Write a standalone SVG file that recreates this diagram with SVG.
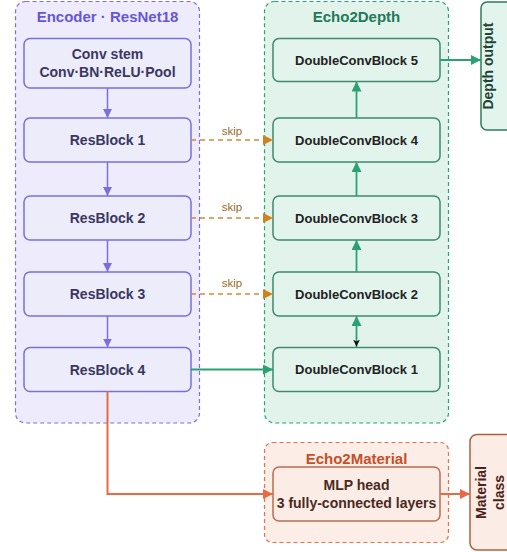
<svg xmlns="http://www.w3.org/2000/svg" width="507" height="552" viewBox="0 0 507 552">
<style>
text{font-family:"Liberation Sans",Arial,sans-serif;font-weight:bold;text-anchor:middle}
.cont{stroke-width:1.2;stroke-dasharray:4 3}
.enc-c{fill:#eeecfc;stroke:#7b6fe0}
.dep-c{fill:#e2f3ec;stroke:#23a675}
.mat-c{fill:#fcede7;stroke:#ea7049}
.enc{fill:#ececfb;stroke:#7a6fdb;stroke-width:1.5}
.dep{fill:#e3f4ed;stroke:#3d8a6c;stroke-width:1.5}
.mat{fill:#fbece5;stroke:#b86d52;stroke-width:1.5}
.t-enc{fill:#3a3760;font-size:14px}
.t-dep{fill:#222;font-size:13px}
.t-mat{fill:#4a2a1e;font-size:14px}
.ti-enc{fill:#6657d2;font-size:15px}
.ti-dep{fill:#1e7a58;font-size:15px}
.ti-mat{fill:#c4502a;font-size:15px}
.skiplbl{fill:#9c6a24;font-size:11.5px;font-weight:normal}
.a-enc{stroke:#7b6fe0;stroke-width:1.5;fill:none}
.a-dep{stroke:#2aa173;stroke-width:1.8;fill:none}
.a-skip{stroke:#d48b35;stroke-width:1.6;stroke-dasharray:5 4;fill:none}
.a-mat{stroke:#e86a44;stroke-width:2;fill:none}
</style>
<defs>
<marker id="mEnc" viewBox="0 0 10 10" refX="10" refY="5" markerUnits="userSpaceOnUse" markerWidth="9" markerHeight="9" orient="auto"><path d="M0,0L10,5L0,10z" fill="#7b6fe0"/></marker>
<marker id="mDep" viewBox="0 0 10 10" refX="10" refY="5" markerUnits="userSpaceOnUse" markerWidth="10" markerHeight="10" orient="auto"><path d="M0,0L10,5L0,10z" fill="#2aa173"/></marker>
<marker id="mSkip" viewBox="0 0 10 10" refX="10" refY="5" markerUnits="userSpaceOnUse" markerWidth="10" markerHeight="10" orient="auto"><path d="M0,0L10,5L0,10z" fill="#d0821f"/></marker>
<marker id="mMat" viewBox="0 0 10 10" refX="10" refY="5" markerUnits="userSpaceOnUse" markerWidth="10" markerHeight="10" orient="auto"><path d="M0,0L10,5L0,10z" fill="#e86a44"/></marker>
<marker id="mBlk" viewBox="0 0 10 10" refX="10" refY="5" markerUnits="userSpaceOnUse" markerWidth="7" markerHeight="7" orient="auto"><path d="M0,0L10,5L0,10L3,5z" fill="#111"/></marker>
</defs>

<g id="encoder">
<rect class="cont enc-c" x="15.5" y="1.5" width="184" height="421.5" rx="10"/>
<text class="ti-enc" x="107.5" y="22">Encoder · ResNet18</text>
</g>
<g id="echo2depth">
<rect class="cont dep-c" x="264.5" y="1.5" width="184" height="421.5" rx="10"/>
<text class="ti-dep" x="356.5" y="22">Echo2Depth</text>
</g>
<g id="echo2material">
<rect class="cont mat-c" x="264.5" y="442.5" width="184" height="100" rx="8"/>
<text class="ti-mat" x="356.5" y="464">Echo2Material</text>
</g>

<g id="conv-stem"><rect class="enc" x="24" y="38.5" width="167" height="49.5" rx="6"/><text class="t-enc" x="107.5" y="59">Conv stem</text><text class="t-enc" x="107.5" y="76.5">Conv·BN·ReLU·Pool</text></g>
<g id="resblock1"><rect class="enc" x="24" y="118" width="167" height="44" rx="6"/><text class="t-enc" x="107.5" y="145">ResBlock 1</text></g>
<g id="resblock2"><rect class="enc" x="24" y="196" width="167" height="44" rx="6"/><text class="t-enc" x="107.5" y="223">ResBlock 2</text></g>
<g id="resblock3"><rect class="enc" x="24" y="272" width="167" height="44" rx="6"/><text class="t-enc" x="107.5" y="299">ResBlock 3</text></g>
<g id="resblock4"><rect class="enc" x="24" y="347.5" width="167" height="44" rx="6"/><text class="t-enc" x="107.5" y="374.5">ResBlock 4</text></g>

<g id="dcb5"><rect class="dep" x="273" y="38.5" width="167" height="43" rx="6"/><text class="t-dep" x="356.5" y="64.5">DoubleConvBlock 5</text></g>
<g id="dcb4"><rect class="dep" x="273" y="118" width="167" height="44" rx="6"/><text class="t-dep" x="356.5" y="144.5">DoubleConvBlock 4</text></g>
<g id="dcb3"><rect class="dep" x="273" y="196" width="167" height="44" rx="6"/><text class="t-dep" x="356.5" y="222.5">DoubleConvBlock 3</text></g>
<g id="dcb2"><rect class="dep" x="273" y="272" width="167" height="44" rx="6"/><text class="t-dep" x="356.5" y="298.5">DoubleConvBlock 2</text></g>
<g id="dcb1"><rect class="dep" x="273" y="347.5" width="167" height="44" rx="6"/><text class="t-dep" x="356.5" y="374">DoubleConvBlock 1</text></g>

<g id="mlp-head"><rect class="mat" x="273" y="467" width="167" height="54" rx="6"/><text class="t-mat" x="356.5" y="490">MLP head</text><text class="t-mat" x="356.5" y="507.5">3 fully-connected layers</text></g>

<g id="depth-output"><rect x="481" y="2" width="34" height="128" rx="6" fill="#e3f4ed" stroke="#2f7a5c" stroke-width="1.5"/><text transform="translate(493,66) rotate(-90)" x="0" y="0" style="font-size:14px;fill:#1d4436">Depth output</text></g>
<g id="material-class"><rect x="470" y="434.5" width="44" height="115.5" rx="7" fill="#fbece5" stroke="#b0603f" stroke-width="1.5"/><text transform="translate(486,492.5) rotate(-90)" style="font-size:14px;fill:#4a2218">Material</text><text transform="translate(504,492.5) rotate(-90)" style="font-size:14px;fill:#4a2218">class</text></g>

<g id="connectors">
<line class="a-enc" x1="107.5" y1="88" x2="107.5" y2="118" marker-end="url(#mEnc)"/>
<line class="a-enc" x1="107.5" y1="162" x2="107.5" y2="196" marker-end="url(#mEnc)"/>
<line class="a-enc" x1="107.5" y1="240" x2="107.5" y2="272" marker-end="url(#mEnc)"/>
<line class="a-enc" x1="107.5" y1="316" x2="107.5" y2="347.5" marker-end="url(#mEnc)"/>

<line class="a-skip" x1="191" y1="140" x2="273" y2="140" marker-end="url(#mSkip)"/>
<line class="a-skip" x1="191" y1="218" x2="273" y2="218" marker-end="url(#mSkip)"/>
<line class="a-skip" x1="191" y1="294" x2="273" y2="294" marker-end="url(#mSkip)"/>
<text class="skiplbl" x="232" y="135">skip</text>
<text class="skiplbl" x="232" y="211">skip</text>
<text class="skiplbl" x="232" y="287">skip</text>

<line class="a-dep" x1="191" y1="369.5" x2="273" y2="369.5" marker-end="url(#mDep)"/>
<line class="a-dep" x1="356.5" y1="347.5" x2="356.5" y2="316" marker-end="url(#mDep)"/>
<line x1="356.5" y1="336" x2="356.5" y2="346.5" stroke="none" marker-end="url(#mBlk)"/>
<line class="a-dep" x1="356.5" y1="272" x2="356.5" y2="240" marker-end="url(#mDep)"/>
<line class="a-dep" x1="356.5" y1="196" x2="356.5" y2="162" marker-end="url(#mDep)"/>
<line class="a-dep" x1="356.5" y1="118" x2="356.5" y2="81.5" marker-end="url(#mDep)"/>
<line class="a-dep" x1="440" y1="60" x2="481" y2="60" marker-end="url(#mDep)"/>

<path class="a-mat" d="M107.5,391.5V494H273" marker-end="url(#mMat)"/>
<line class="a-mat" x1="440" y1="494" x2="470" y2="494" marker-end="url(#mMat)"/>
</g>
</svg>
